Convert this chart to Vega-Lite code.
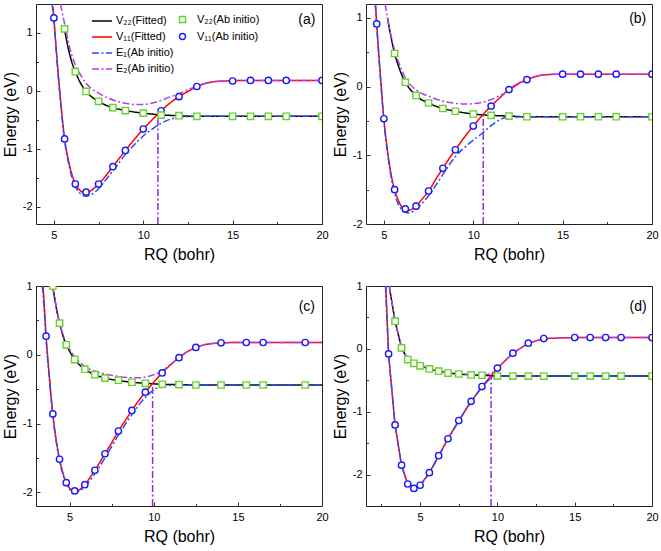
{
"$schema": "https://vega.github.io/schema/vega-lite/v6.json",
"padding": {"left": 1, "top": 3, "right": 0, "bottom": 2},
"config": {
  "font": "Liberation Sans",
  "view": {"stroke": "#222", "strokeWidth": 1},
  "axis": {"labelColor": "#000", "titleColor": "#000", "tickColor": "#333", "grid": false, "domain": false, "labelFontSize": 11, "titleFontSize": 16, "titleFontWeight": "normal", "labelFont": "Liberation Sans", "titleFont": "Liberation Sans", "labelFlush": false},
  "legend": {"labelFont": "Liberation Sans", "labelFontSize": 11, "labelColor": "#000"}
},
"data": {"values": [
{"p":"a","s":"V22F","x":5.55,"y":1.13},{"p":"a","s":"V22F","x":5.6,"y":1.05},{"p":"a","s":"V22F","x":5.8,"y":0.74},{"p":"a","s":"V22F","x":6.0,"y":0.5},{"p":"a","s":"V22F","x":6.2,"y":0.33},{"p":"a","s":"V22F","x":6.5,"y":0.13},{"p":"a","s":"V22F","x":6.8,"y":-0.01},{"p":"a","s":"V22F","x":7.1,"y":-0.1},{"p":"a","s":"V22F","x":7.5,"y":-0.18},{"p":"a","s":"V22F","x":8.0,"y":-0.26},{"p":"a","s":"V22F","x":8.3,"y":-0.29},{"p":"a","s":"V22F","x":9.0,"y":-0.34},{"p":"a","s":"V22F","x":10,"y":-0.385},{"p":"a","s":"V22F","x":11,"y":-0.415},{"p":"a","s":"V22F","x":12,"y":-0.43},{"p":"a","s":"V22F","x":13,"y":-0.44},{"p":"a","s":"V22F","x":15,"y":-0.44},{"p":"a","s":"V22F","x":20,"y":-0.44},
{"p":"a","s":"V11F","x":4.95,"y":1.45},{"p":"a","s":"V11F","x":5.0,"y":1.26},{"p":"a","s":"V11F","x":5.2,"y":0.45},{"p":"a","s":"V11F","x":5.4,"y":-0.25},{"p":"a","s":"V11F","x":5.6,"y":-0.83},{"p":"a","s":"V11F","x":5.8,"y":-1.18},{"p":"a","s":"V11F","x":6.0,"y":-1.43},{"p":"a","s":"V11F","x":6.2,"y":-1.61},{"p":"a","s":"V11F","x":6.5,"y":-1.73},{"p":"a","s":"V11F","x":6.8,"y":-1.77},{"p":"a","s":"V11F","x":7.1,"y":-1.72},{"p":"a","s":"V11F","x":7.5,"y":-1.61},{"p":"a","s":"V11F","x":8.0,"y":-1.43},{"p":"a","s":"V11F","x":8.3,"y":-1.31},{"p":"a","s":"V11F","x":8.7,"y":-1.15},{"p":"a","s":"V11F","x":9.0,"y":-1.03},{"p":"a","s":"V11F","x":9.5,"y":-0.84},{"p":"a","s":"V11F","x":10,"y":-0.66},{"p":"a","s":"V11F","x":10.5,"y":-0.5},{"p":"a","s":"V11F","x":11,"y":-0.345},{"p":"a","s":"V11F","x":11.5,"y":-0.21},{"p":"a","s":"V11F","x":12,"y":-0.1},{"p":"a","s":"V11F","x":12.5,"y":-0.01},{"p":"a","s":"V11F","x":13,"y":0.075},{"p":"a","s":"V11F","x":13.5,"y":0.13},{"p":"a","s":"V11F","x":14,"y":0.16},{"p":"a","s":"V11F","x":15,"y":0.175},{"p":"a","s":"V11F","x":16,"y":0.18},{"p":"a","s":"V11F","x":20,"y":0.18},
{"p":"a","s":"E1","x":4.9,"y":1.5},{"p":"a","s":"E1","x":5.0,"y":1.2},{"p":"a","s":"E1","x":5.2,"y":0.42},{"p":"a","s":"E1","x":5.4,"y":-0.28},{"p":"a","s":"E1","x":5.6,"y":-0.86},{"p":"a","s":"E1","x":5.8,"y":-1.22},{"p":"a","s":"E1","x":6.0,"y":-1.48},{"p":"a","s":"E1","x":6.2,"y":-1.65},{"p":"a","s":"E1","x":6.5,"y":-1.78},{"p":"a","s":"E1","x":6.8,"y":-1.82},{"p":"a","s":"E1","x":7.1,"y":-1.79},{"p":"a","s":"E1","x":7.5,"y":-1.69},{"p":"a","s":"E1","x":8.0,"y":-1.5},{"p":"a","s":"E1","x":8.3,"y":-1.38},{"p":"a","s":"E1","x":8.7,"y":-1.22},{"p":"a","s":"E1","x":9.0,"y":-1.1},{"p":"a","s":"E1","x":9.5,"y":-0.93},{"p":"a","s":"E1","x":10,"y":-0.78},{"p":"a","s":"E1","x":10.5,"y":-0.66},{"p":"a","s":"E1","x":11,"y":-0.56},{"p":"a","s":"E1","x":11.5,"y":-0.49},{"p":"a","s":"E1","x":12,"y":-0.46},{"p":"a","s":"E1","x":12.5,"y":-0.445},{"p":"a","s":"E1","x":13,"y":-0.44},{"p":"a","s":"E1","x":20,"y":-0.44},
{"p":"a","s":"E2","x":5.37,"y":1.5},{"p":"a","s":"E2","x":5.5,"y":1.3},{"p":"a","s":"E2","x":5.6,"y":1.16},{"p":"a","s":"E2","x":5.8,"y":0.86},{"p":"a","s":"E2","x":6.0,"y":0.62},{"p":"a","s":"E2","x":6.2,"y":0.45},{"p":"a","s":"E2","x":6.5,"y":0.27},{"p":"a","s":"E2","x":6.8,"y":0.13},{"p":"a","s":"E2","x":7.1,"y":0.04},{"p":"a","s":"E2","x":7.5,"y":-0.04},{"p":"a","s":"E2","x":8.0,"y":-0.12},{"p":"a","s":"E2","x":8.5,"y":-0.18},{"p":"a","s":"E2","x":9.0,"y":-0.215},{"p":"a","s":"E2","x":9.5,"y":-0.235},{"p":"a","s":"E2","x":10,"y":-0.235},{"p":"a","s":"E2","x":10.5,"y":-0.21},{"p":"a","s":"E2","x":11,"y":-0.165},{"p":"a","s":"E2","x":11.5,"y":-0.105},{"p":"a","s":"E2","x":12,"y":-0.05},{"p":"a","s":"E2","x":12.5,"y":0.02},{"p":"a","s":"E2","x":13,"y":0.08},{"p":"a","s":"E2","x":13.5,"y":0.13},{"p":"a","s":"E2","x":14,"y":0.16},{"p":"a","s":"E2","x":15,"y":0.175},{"p":"a","s":"E2","x":16,"y":0.18},{"p":"a","s":"E2","x":20,"y":0.18},
{"p":"a","s":"V11A","x":5.0,"y":1.26},{"p":"a","s":"V11A","x":5.6,"y":-0.83},{"p":"a","s":"V11A","x":6.2,"y":-1.61},{"p":"a","s":"V11A","x":6.8,"y":-1.75},{"p":"a","s":"V11A","x":7.5,"y":-1.61},{"p":"a","s":"V11A","x":8.3,"y":-1.31},{"p":"a","s":"V11A","x":9.0,"y":-1.03},{"p":"a","s":"V11A","x":10,"y":-0.66},{"p":"a","s":"V11A","x":11,"y":-0.345},{"p":"a","s":"V11A","x":12,"y":-0.1},{"p":"a","s":"V11A","x":13,"y":0.075},{"p":"a","s":"V11A","x":15,"y":0.17},{"p":"a","s":"V11A","x":16,"y":0.18},{"p":"a","s":"V11A","x":17,"y":0.18},{"p":"a","s":"V11A","x":18,"y":0.18},{"p":"a","s":"V11A","x":20,"y":0.18},
{"p":"a","s":"V22A","x":5.6,"y":1.07},{"p":"a","s":"V22A","x":6.2,"y":0.33},{"p":"a","s":"V22A","x":6.8,"y":-0.01},{"p":"a","s":"V22A","x":7.5,"y":-0.18},{"p":"a","s":"V22A","x":8.3,"y":-0.29},{"p":"a","s":"V22A","x":9.0,"y":-0.34},{"p":"a","s":"V22A","x":10,"y":-0.385},{"p":"a","s":"V22A","x":11,"y":-0.42},{"p":"a","s":"V22A","x":12,"y":-0.43},{"p":"a","s":"V22A","x":13,"y":-0.44},{"p":"a","s":"V22A","x":15,"y":-0.44},{"p":"a","s":"V22A","x":16,"y":-0.44},{"p":"a","s":"V22A","x":17,"y":-0.44},{"p":"a","s":"V22A","x":18,"y":-0.44},{"p":"a","s":"V22A","x":20,"y":-0.44},
{"p":"a","s":"VL","x":10.82,"y":-2.3,"y2":-0.42},

{"p":"b","s":"V22F","x":5.2,"y":1.0},{"p":"b","s":"V22F","x":5.4,"y":0.72},{"p":"b","s":"V22F","x":5.6,"y":0.48},{"p":"b","s":"V22F","x":5.8,"y":0.31},{"p":"b","s":"V22F","x":6.0,"y":0.17},{"p":"b","s":"V22F","x":6.2,"y":0.063},{"p":"b","s":"V22F","x":6.5,"y":-0.05},{"p":"b","s":"V22F","x":6.8,"y":-0.13},{"p":"b","s":"V22F","x":7.1,"y":-0.19},{"p":"b","s":"V22F","x":7.5,"y":-0.24},{"p":"b","s":"V22F","x":8.0,"y":-0.295},{"p":"b","s":"V22F","x":8.3,"y":-0.32},{"p":"b","s":"V22F","x":9.0,"y":-0.36},{"p":"b","s":"V22F","x":10,"y":-0.4},{"p":"b","s":"V22F","x":11,"y":-0.42},{"p":"b","s":"V22F","x":12,"y":-0.43},{"p":"b","s":"V22F","x":13,"y":-0.44},{"p":"b","s":"V22F","x":20,"y":-0.44},
{"p":"b","s":"V11F","x":4.53,"y":1.2},{"p":"b","s":"V11F","x":4.6,"y":0.91},{"p":"b","s":"V11F","x":4.8,"y":0.18},{"p":"b","s":"V11F","x":5.0,"y":-0.47},{"p":"b","s":"V11F","x":5.2,"y":-0.93},{"p":"b","s":"V11F","x":5.4,"y":-1.27},{"p":"b","s":"V11F","x":5.6,"y":-1.5},{"p":"b","s":"V11F","x":5.8,"y":-1.65},{"p":"b","s":"V11F","x":6.0,"y":-1.75},{"p":"b","s":"V11F","x":6.2,"y":-1.79},{"p":"b","s":"V11F","x":6.4,"y":-1.8},{"p":"b","s":"V11F","x":6.6,"y":-1.78},{"p":"b","s":"V11F","x":6.8,"y":-1.74},{"p":"b","s":"V11F","x":7.1,"y":-1.65},{"p":"b","s":"V11F","x":7.5,"y":-1.52},{"p":"b","s":"V11F","x":8.0,"y":-1.31},{"p":"b","s":"V11F","x":8.3,"y":-1.19},{"p":"b","s":"V11F","x":8.7,"y":-1.03},{"p":"b","s":"V11F","x":9.0,"y":-0.92},{"p":"b","s":"V11F","x":9.5,"y":-0.74},{"p":"b","s":"V11F","x":10,"y":-0.575},{"p":"b","s":"V11F","x":10.5,"y":-0.42},{"p":"b","s":"V11F","x":11,"y":-0.285},{"p":"b","s":"V11F","x":11.5,"y":-0.16},{"p":"b","s":"V11F","x":12,"y":-0.045},{"p":"b","s":"V11F","x":12.5,"y":0.04},{"p":"b","s":"V11F","x":13,"y":0.1},{"p":"b","s":"V11F","x":13.5,"y":0.145},{"p":"b","s":"V11F","x":14,"y":0.17},{"p":"b","s":"V11F","x":15,"y":0.18},{"p":"b","s":"V11F","x":20,"y":0.18},
{"p":"b","s":"E1","x":4.52,"y":1.2},{"p":"b","s":"E1","x":4.6,"y":0.88},{"p":"b","s":"E1","x":4.8,"y":0.15},{"p":"b","s":"E1","x":5.0,"y":-0.5},{"p":"b","s":"E1","x":5.2,"y":-0.96},{"p":"b","s":"E1","x":5.4,"y":-1.31},{"p":"b","s":"E1","x":5.6,"y":-1.55},{"p":"b","s":"E1","x":5.8,"y":-1.71},{"p":"b","s":"E1","x":6.0,"y":-1.79},{"p":"b","s":"E1","x":6.2,"y":-1.83},{"p":"b","s":"E1","x":6.4,"y":-1.84},{"p":"b","s":"E1","x":6.6,"y":-1.82},{"p":"b","s":"E1","x":6.8,"y":-1.78},{"p":"b","s":"E1","x":7.1,"y":-1.71},{"p":"b","s":"E1","x":7.5,"y":-1.59},{"p":"b","s":"E1","x":8.0,"y":-1.4},{"p":"b","s":"E1","x":8.5,"y":-1.2},{"p":"b","s":"E1","x":9.0,"y":-1.02},{"p":"b","s":"E1","x":9.5,"y":-0.89},{"p":"b","s":"E1","x":10,"y":-0.78},{"p":"b","s":"E1","x":10.5,"y":-0.68},{"p":"b","s":"E1","x":11,"y":-0.57},{"p":"b","s":"E1","x":11.5,"y":-0.48},{"p":"b","s":"E1","x":12,"y":-0.445},{"p":"b","s":"E1","x":13,"y":-0.44},{"p":"b","s":"E1","x":20,"y":-0.44},
{"p":"b","s":"E2","x":5.07,"y":1.2},{"p":"b","s":"E2","x":5.2,"y":1.0},{"p":"b","s":"E2","x":5.4,"y":0.74},{"p":"b","s":"E2","x":5.6,"y":0.53},{"p":"b","s":"E2","x":5.8,"y":0.37},{"p":"b","s":"E2","x":6.0,"y":0.24},{"p":"b","s":"E2","x":6.2,"y":0.13},{"p":"b","s":"E2","x":6.5,"y":0.02},{"p":"b","s":"E2","x":6.8,"y":-0.05},{"p":"b","s":"E2","x":7.1,"y":-0.1},{"p":"b","s":"E2","x":7.5,"y":-0.14},{"p":"b","s":"E2","x":8.0,"y":-0.19},{"p":"b","s":"E2","x":8.5,"y":-0.225},{"p":"b","s":"E2","x":9.0,"y":-0.245},{"p":"b","s":"E2","x":9.5,"y":-0.255},{"p":"b","s":"E2","x":10,"y":-0.25},{"p":"b","s":"E2","x":10.5,"y":-0.23},{"p":"b","s":"E2","x":11,"y":-0.19},{"p":"b","s":"E2","x":11.5,"y":-0.13},{"p":"b","s":"E2","x":12,"y":-0.055},{"p":"b","s":"E2","x":12.5,"y":0.03},{"p":"b","s":"E2","x":13,"y":0.1},{"p":"b","s":"E2","x":13.5,"y":0.15},{"p":"b","s":"E2","x":14,"y":0.17},{"p":"b","s":"E2","x":15,"y":0.18},{"p":"b","s":"E2","x":20,"y":0.18},
{"p":"b","s":"V11A","x":4.6,"y":0.91},{"p":"b","s":"V11A","x":5.0,"y":-0.47},{"p":"b","s":"V11A","x":5.6,"y":-1.5},{"p":"b","s":"V11A","x":6.2,"y":-1.78},{"p":"b","s":"V11A","x":6.8,"y":-1.74},{"p":"b","s":"V11A","x":7.5,"y":-1.52},{"p":"b","s":"V11A","x":8.3,"y":-1.19},{"p":"b","s":"V11A","x":9.0,"y":-0.92},{"p":"b","s":"V11A","x":10,"y":-0.575},{"p":"b","s":"V11A","x":11,"y":-0.285},{"p":"b","s":"V11A","x":12,"y":-0.045},{"p":"b","s":"V11A","x":13,"y":0.1},{"p":"b","s":"V11A","x":15,"y":0.18},{"p":"b","s":"V11A","x":16,"y":0.18},{"p":"b","s":"V11A","x":17,"y":0.18},{"p":"b","s":"V11A","x":18,"y":0.18},{"p":"b","s":"V11A","x":20,"y":0.18},
{"p":"b","s":"V22A","x":5.6,"y":0.48},{"p":"b","s":"V22A","x":6.2,"y":0.063},{"p":"b","s":"V22A","x":6.8,"y":-0.13},{"p":"b","s":"V22A","x":7.5,"y":-0.24},{"p":"b","s":"V22A","x":8.3,"y":-0.32},{"p":"b","s":"V22A","x":9.0,"y":-0.36},{"p":"b","s":"V22A","x":10,"y":-0.4},{"p":"b","s":"V22A","x":11,"y":-0.42},{"p":"b","s":"V22A","x":12,"y":-0.43},{"p":"b","s":"V22A","x":13,"y":-0.44},{"p":"b","s":"V22A","x":15,"y":-0.44},{"p":"b","s":"V22A","x":16,"y":-0.44},{"p":"b","s":"V22A","x":17,"y":-0.44},{"p":"b","s":"V22A","x":18,"y":-0.44},{"p":"b","s":"V22A","x":20,"y":-0.44},
{"p":"b","s":"VL","x":10.56,"y":-2.0,"y2":-0.42},

{"p":"c","s":"V22F","x":4.0,"y":1.0},{"p":"c","s":"V22F","x":4.2,"y":0.69},{"p":"c","s":"V22F","x":4.4,"y":0.46},{"p":"c","s":"V22F","x":4.6,"y":0.28},{"p":"c","s":"V22F","x":4.8,"y":0.145},{"p":"c","s":"V22F","x":5.0,"y":0.05},{"p":"c","s":"V22F","x":5.3,"y":-0.07},{"p":"c","s":"V22F","x":5.6,"y":-0.15},{"p":"c","s":"V22F","x":5.9,"y":-0.21},{"p":"c","s":"V22F","x":6.5,"y":-0.29},{"p":"c","s":"V22F","x":7.1,"y":-0.34},{"p":"c","s":"V22F","x":7.9,"y":-0.375},{"p":"c","s":"V22F","x":8.7,"y":-0.4},{"p":"c","s":"V22F","x":9.5,"y":-0.415},{"p":"c","s":"V22F","x":10.5,"y":-0.43},{"p":"c","s":"V22F","x":11.5,"y":-0.435},{"p":"c","s":"V22F","x":12.5,"y":-0.44},{"p":"c","s":"V22F","x":20,"y":-0.44},
{"p":"c","s":"V11F","x":3.42,"y":1.0},{"p":"c","s":"V11F","x":3.5,"y":0.68},{"p":"c","s":"V11F","x":3.6,"y":0.27},{"p":"c","s":"V11F","x":3.8,"y":-0.33},{"p":"c","s":"V11F","x":4.0,"y":-0.86},{"p":"c","s":"V11F","x":4.2,"y":-1.24},{"p":"c","s":"V11F","x":4.4,"y":-1.52},{"p":"c","s":"V11F","x":4.6,"y":-1.72},{"p":"c","s":"V11F","x":4.8,"y":-1.86},{"p":"c","s":"V11F","x":5.0,"y":-1.94},{"p":"c","s":"V11F","x":5.3,"y":-1.98},{"p":"c","s":"V11F","x":5.6,"y":-1.96},{"p":"c","s":"V11F","x":5.9,"y":-1.89},{"p":"c","s":"V11F","x":6.2,"y":-1.79},{"p":"c","s":"V11F","x":6.5,"y":-1.68},{"p":"c","s":"V11F","x":7.1,"y":-1.44},{"p":"c","s":"V11F","x":7.5,"y":-1.28},{"p":"c","s":"V11F","x":7.9,"y":-1.11},{"p":"c","s":"V11F","x":8.3,"y":-0.96},{"p":"c","s":"V11F","x":8.7,"y":-0.81},{"p":"c","s":"V11F","x":9.1,"y":-0.67},{"p":"c","s":"V11F","x":9.5,"y":-0.545},{"p":"c","s":"V11F","x":10,"y":-0.4},{"p":"c","s":"V11F","x":10.5,"y":-0.265},{"p":"c","s":"V11F","x":11,"y":-0.145},{"p":"c","s":"V11F","x":11.5,"y":-0.043},{"p":"c","s":"V11F","x":12,"y":0.045},{"p":"c","s":"V11F","x":12.5,"y":0.106},{"p":"c","s":"V11F","x":13,"y":0.145},{"p":"c","s":"V11F","x":14,"y":0.172},{"p":"c","s":"V11F","x":15,"y":0.178},{"p":"c","s":"V11F","x":20,"y":0.178},
{"p":"c","s":"E1","x":3.38,"y":1.0},{"p":"c","s":"E1","x":3.5,"y":0.6},{"p":"c","s":"E1","x":3.6,"y":0.22},{"p":"c","s":"E1","x":3.8,"y":-0.37},{"p":"c","s":"E1","x":4.0,"y":-0.89},{"p":"c","s":"E1","x":4.2,"y":-1.26},{"p":"c","s":"E1","x":4.4,"y":-1.54},{"p":"c","s":"E1","x":4.6,"y":-1.74},{"p":"c","s":"E1","x":4.8,"y":-1.88},{"p":"c","s":"E1","x":5.0,"y":-1.96},{"p":"c","s":"E1","x":5.3,"y":-2.0},{"p":"c","s":"E1","x":5.6,"y":-1.98},{"p":"c","s":"E1","x":5.9,"y":-1.92},{"p":"c","s":"E1","x":6.5,"y":-1.73},{"p":"c","s":"E1","x":7.1,"y":-1.5},{"p":"c","s":"E1","x":7.9,"y":-1.17},{"p":"c","s":"E1","x":8.7,"y":-0.87},{"p":"c","s":"E1","x":9.5,"y":-0.62},{"p":"c","s":"E1","x":10,"y":-0.51},{"p":"c","s":"E1","x":10.5,"y":-0.46},{"p":"c","s":"E1","x":11,"y":-0.445},{"p":"c","s":"E1","x":11.5,"y":-0.44},{"p":"c","s":"E1","x":20,"y":-0.44},
{"p":"c","s":"E2","x":3.98,"y":1.0},{"p":"c","s":"E2","x":4.2,"y":0.7},{"p":"c","s":"E2","x":4.4,"y":0.47},{"p":"c","s":"E2","x":4.6,"y":0.3},{"p":"c","s":"E2","x":4.8,"y":0.17},{"p":"c","s":"E2","x":5.0,"y":0.08},{"p":"c","s":"E2","x":5.3,"y":-0.03},{"p":"c","s":"E2","x":5.6,"y":-0.11},{"p":"c","s":"E2","x":5.9,"y":-0.17},{"p":"c","s":"E2","x":6.5,"y":-0.24},{"p":"c","s":"E2","x":7.1,"y":-0.28},{"p":"c","s":"E2","x":7.9,"y":-0.315},{"p":"c","s":"E2","x":8.7,"y":-0.335},{"p":"c","s":"E2","x":9.2,"y":-0.335},{"p":"c","s":"E2","x":9.6,"y":-0.32},{"p":"c","s":"E2","x":10,"y":-0.29},{"p":"c","s":"E2","x":10.5,"y":-0.235},{"p":"c","s":"E2","x":11,"y":-0.14},{"p":"c","s":"E2","x":11.5,"y":-0.04},{"p":"c","s":"E2","x":12,"y":0.045},{"p":"c","s":"E2","x":12.5,"y":0.106},{"p":"c","s":"E2","x":13,"y":0.145},{"p":"c","s":"E2","x":14,"y":0.172},{"p":"c","s":"E2","x":15,"y":0.178},{"p":"c","s":"E2","x":20,"y":0.178},
{"p":"c","s":"V11A","x":3.6,"y":0.27},{"p":"c","s":"V11A","x":4.0,"y":-0.86},{"p":"c","s":"V11A","x":4.4,"y":-1.52},{"p":"c","s":"V11A","x":4.8,"y":-1.86},{"p":"c","s":"V11A","x":5.3,"y":-1.98},{"p":"c","s":"V11A","x":5.9,"y":-1.89},{"p":"c","s":"V11A","x":6.5,"y":-1.68},{"p":"c","s":"V11A","x":7.1,"y":-1.44},{"p":"c","s":"V11A","x":7.9,"y":-1.11},{"p":"c","s":"V11A","x":8.7,"y":-0.81},{"p":"c","s":"V11A","x":9.5,"y":-0.545},{"p":"c","s":"V11A","x":10.5,"y":-0.265},{"p":"c","s":"V11A","x":11.5,"y":-0.043},{"p":"c","s":"V11A","x":12.5,"y":0.106},{"p":"c","s":"V11A","x":14,"y":0.174},{"p":"c","s":"V11A","x":15.5,"y":0.178},{"p":"c","s":"V11A","x":16.5,"y":0.178},{"p":"c","s":"V11A","x":19,"y":0.178},
{"p":"c","s":"V22A","x":4.0,"y":1.0},{"p":"c","s":"V22A","x":4.4,"y":0.46},{"p":"c","s":"V22A","x":4.8,"y":0.145},{"p":"c","s":"V22A","x":5.3,"y":-0.07},{"p":"c","s":"V22A","x":5.9,"y":-0.21},{"p":"c","s":"V22A","x":6.5,"y":-0.29},{"p":"c","s":"V22A","x":7.1,"y":-0.34},{"p":"c","s":"V22A","x":7.9,"y":-0.37},{"p":"c","s":"V22A","x":8.7,"y":-0.4},{"p":"c","s":"V22A","x":9.5,"y":-0.415},{"p":"c","s":"V22A","x":10.5,"y":-0.43},{"p":"c","s":"V22A","x":11.5,"y":-0.434},{"p":"c","s":"V22A","x":12.5,"y":-0.44},{"p":"c","s":"V22A","x":14,"y":-0.44},{"p":"c","s":"V22A","x":15.5,"y":-0.44},{"p":"c","s":"V22A","x":16.5,"y":-0.44},{"p":"c","s":"V22A","x":19,"y":-0.44},
{"p":"c","s":"VL","x":9.93,"y":-2.2,"y2":-0.43},

{"p":"d","s":"V22F","x":3.0,"y":1.0},{"p":"d","s":"V22F","x":3.38,"y":0.44},{"p":"d","s":"V22F","x":3.8,"y":0.016},{"p":"d","s":"V22F","x":4.2,"y":-0.17},{"p":"d","s":"V22F","x":4.6,"y":-0.23},{"p":"d","s":"V22F","x":5.0,"y":-0.27},{"p":"d","s":"V22F","x":5.6,"y":-0.32},{"p":"d","s":"V22F","x":6.2,"y":-0.355},{"p":"d","s":"V22F","x":6.8,"y":-0.385},{"p":"d","s":"V22F","x":7.5,"y":-0.4},{"p":"d","s":"V22F","x":8.3,"y":-0.415},{"p":"d","s":"V22F","x":9.0,"y":-0.42},{"p":"d","s":"V22F","x":10,"y":-0.433},{"p":"d","s":"V22F","x":20,"y":-0.433},
{"p":"d","s":"V11F","x":2.78,"y":1.0},{"p":"d","s":"V11F","x":2.96,"y":-0.08},{"p":"d","s":"V11F","x":3.38,"y":-1.21},{"p":"d","s":"V11F","x":3.8,"y":-1.85},{"p":"d","s":"V11F","x":4.2,"y":-2.15},{"p":"d","s":"V11F","x":4.6,"y":-2.22},{"p":"d","s":"V11F","x":5.0,"y":-2.17},{"p":"d","s":"V11F","x":5.6,"y":-1.97},{"p":"d","s":"V11F","x":6.2,"y":-1.7},{"p":"d","s":"V11F","x":6.8,"y":-1.43},{"p":"d","s":"V11F","x":7.5,"y":-1.14},{"p":"d","s":"V11F","x":8.3,"y":-0.835},{"p":"d","s":"V11F","x":9.0,"y":-0.6},{"p":"d","s":"V11F","x":10,"y":-0.306},{"p":"d","s":"V11F","x":11,"y":-0.069},{"p":"d","s":"V11F","x":12,"y":0.09},{"p":"d","s":"V11F","x":13,"y":0.164},{"p":"d","s":"V11F","x":15,"y":0.18},{"p":"d","s":"V11F","x":20,"y":0.18},
{"p":"d","s":"E1","x":2.76,"y":1.0},{"p":"d","s":"E1","x":2.96,"y":-0.09},{"p":"d","s":"E1","x":3.38,"y":-1.22},{"p":"d","s":"E1","x":3.8,"y":-1.86},{"p":"d","s":"E1","x":4.2,"y":-2.16},{"p":"d","s":"E1","x":4.6,"y":-2.23},{"p":"d","s":"E1","x":5.0,"y":-2.18},{"p":"d","s":"E1","x":5.6,"y":-1.98},{"p":"d","s":"E1","x":6.2,"y":-1.71},{"p":"d","s":"E1","x":6.8,"y":-1.44},{"p":"d","s":"E1","x":7.5,"y":-1.15},{"p":"d","s":"E1","x":8.3,"y":-0.84},{"p":"d","s":"E1","x":9.0,"y":-0.61},{"p":"d","s":"E1","x":9.6,"y":-0.45},{"p":"d","s":"E1","x":10,"y":-0.435},{"p":"d","s":"E1","x":11,"y":-0.433},{"p":"d","s":"E1","x":20,"y":-0.433},
{"p":"d","s":"E2","x":3.0,"y":1.0},{"p":"d","s":"E2","x":3.38,"y":0.44},{"p":"d","s":"E2","x":3.8,"y":0.02},{"p":"d","s":"E2","x":4.2,"y":-0.165},{"p":"d","s":"E2","x":4.6,"y":-0.225},{"p":"d","s":"E2","x":5.0,"y":-0.265},{"p":"d","s":"E2","x":5.6,"y":-0.315},{"p":"d","s":"E2","x":6.2,"y":-0.35},{"p":"d","s":"E2","x":6.8,"y":-0.38},{"p":"d","s":"E2","x":7.5,"y":-0.395},{"p":"d","s":"E2","x":8.3,"y":-0.41},{"p":"d","s":"E2","x":9.0,"y":-0.415},{"p":"d","s":"E2","x":9.6,"y":-0.4},{"p":"d","s":"E2","x":10,"y":-0.306},{"p":"d","s":"E2","x":11,"y":-0.069},{"p":"d","s":"E2","x":12,"y":0.09},{"p":"d","s":"E2","x":13,"y":0.164},{"p":"d","s":"E2","x":15,"y":0.18},{"p":"d","s":"E2","x":20,"y":0.18},
{"p":"d","s":"V11A","x":2.96,"y":-0.08},{"p":"d","s":"V11A","x":3.38,"y":-1.21},{"p":"d","s":"V11A","x":3.8,"y":-1.85},{"p":"d","s":"V11A","x":4.2,"y":-2.15},{"p":"d","s":"V11A","x":4.6,"y":-2.22},{"p":"d","s":"V11A","x":5.0,"y":-2.17},{"p":"d","s":"V11A","x":5.6,"y":-1.97},{"p":"d","s":"V11A","x":6.2,"y":-1.7},{"p":"d","s":"V11A","x":6.8,"y":-1.43},{"p":"d","s":"V11A","x":7.5,"y":-1.14},{"p":"d","s":"V11A","x":8.3,"y":-0.835},{"p":"d","s":"V11A","x":9.0,"y":-0.6},{"p":"d","s":"V11A","x":10,"y":-0.306},{"p":"d","s":"V11A","x":11,"y":-0.069},{"p":"d","s":"V11A","x":12,"y":0.09},{"p":"d","s":"V11A","x":13,"y":0.164},{"p":"d","s":"V11A","x":15,"y":0.18},{"p":"d","s":"V11A","x":16,"y":0.18},{"p":"d","s":"V11A","x":17,"y":0.18},{"p":"d","s":"V11A","x":18,"y":0.18},{"p":"d","s":"V11A","x":20,"y":0.18},
{"p":"d","s":"V22A","x":3.38,"y":0.44},{"p":"d","s":"V22A","x":3.8,"y":0.016},{"p":"d","s":"V22A","x":4.2,"y":-0.17},{"p":"d","s":"V22A","x":4.6,"y":-0.23},{"p":"d","s":"V22A","x":5.0,"y":-0.27},{"p":"d","s":"V22A","x":5.6,"y":-0.32},{"p":"d","s":"V22A","x":6.2,"y":-0.355},{"p":"d","s":"V22A","x":6.8,"y":-0.385},{"p":"d","s":"V22A","x":7.5,"y":-0.4},{"p":"d","s":"V22A","x":8.3,"y":-0.415},{"p":"d","s":"V22A","x":9.0,"y":-0.42},{"p":"d","s":"V22A","x":10,"y":-0.433},{"p":"d","s":"V22A","x":11,"y":-0.433},{"p":"d","s":"V22A","x":12,"y":-0.433},{"p":"d","s":"V22A","x":13,"y":-0.433},{"p":"d","s":"V22A","x":15,"y":-0.433},{"p":"d","s":"V22A","x":16,"y":-0.433},{"p":"d","s":"V22A","x":17,"y":-0.433},{"p":"d","s":"V22A","x":18,"y":-0.433},{"p":"d","s":"V22A","x":20,"y":-0.433},
{"p":"d","s":"VL","x":9.59,"y":-2.5,"y2":-0.43}
]},
"columns": 2,
"bounds": "flush",
"spacing": {"row": 62, "column": 44},
"resolve": {"scale": {"stroke": "independent", "strokeDash": "independent", "color": "independent", "shape": "independent"}},
"concat": [
 {"width": 286, "height": 220,
  "transform": [{"filter": "datum.p === 'a'"}],
  "resolve": {"axis": {"x": "independent", "y": "independent"}},
  "layer": [
   {"transform": [{"filter": "datum.s === 'V22F' || datum.s === 'V11F'"}],
    "mark": {"type": "line", "clip": true, "interpolate": "monotone", "strokeWidth": 1.5},
    "encoding": {
     "x": {"field": "x", "type": "quantitative", "scale": {"domain": [4, 20], "nice": false, "zero": false}, "axis": {"values": [5, 10, 15, 20], "title": "RQ (bohr)", "tickSize": -4, "labelPadding": 9, "titlePadding": 6, "labelFlush": false}},
     "y": {"field": "y", "type": "quantitative", "scale": {"domain": [-2.3, 1.5], "nice": false, "zero": false}, "axis": {"values": [-2, -1, 0, 1], "title": "Energy (eV)", "tickSize": -4, "labelPadding": 8, "titlePadding": 4, "labelFlush": false, "labelExpr": "datum.value < 0 ? '-' + abs(datum.value) : '' + datum.value"}},
     "stroke": {"field": "s", "type": "nominal", "scale": {"domain": ["V22F", "V11F", "E1", "E2"], "range": ["#000000", "#ff0000", "#2a4bff", "#b040f0"]}, "legend": {"orient": "none", "legendX": 55, "legendY": 6, "title": null, "symbolType": "stroke", "symbolSize": 400, "symbolStrokeWidth": 1.5, "rowPadding": -2, "labelOffset": 3, "labelExpr": "{'V22F': 'V₂₂(Fitted)', 'V11F': 'V₁₁(Fitted)', 'E1': 'E₁(Ab initio)', 'E2': 'E₂(Ab initio)'}[datum.label]"}},
     "strokeDash": {"field": "s", "type": "nominal", "scale": {"domain": ["V22F", "V11F", "E1", "E2"], "range": [[1, 0], [1, 0], [7, 2.5, 2, 2.5], [7, 2.5, 2, 2.5]]}, "legend": {"orient": "none", "legendX": 55, "legendY": 6, "title": null, "symbolType": "stroke", "symbolSize": 400, "symbolStrokeWidth": 1.5, "rowPadding": -2, "labelOffset": 3, "labelExpr": "{'V22F': 'V₂₂(Fitted)', 'V11F': 'V₁₁(Fitted)', 'E1': 'E₁(Ab initio)', 'E2': 'E₂(Ab initio)'}[datum.label]"}}
    }},
   {"transform": [{"filter": "datum.s === 'E1' || datum.s === 'E2'"}],
    "mark": {"type": "line", "clip": true, "interpolate": "monotone", "strokeWidth": 1.5},
    "encoding": {
     "x": {"field": "x", "type": "quantitative", "axis": null},
     "y": {"field": "y", "type": "quantitative", "axis": null},
     "stroke": {"field": "s", "type": "nominal", "legend": {"orient": "none", "legendX": 55, "legendY": 6, "title": null, "symbolType": "stroke", "symbolSize": 400, "symbolStrokeWidth": 1.5, "rowPadding": -2, "labelOffset": 3, "labelExpr": "{'V22F': 'V₂₂(Fitted)', 'V11F': 'V₁₁(Fitted)', 'E1': 'E₁(Ab initio)', 'E2': 'E₂(Ab initio)'}[datum.label]"}},
     "strokeDash": {"field": "s", "type": "nominal", "legend": {"orient": "none", "legendX": 55, "legendY": 6, "title": null, "symbolType": "stroke", "symbolSize": 400, "symbolStrokeWidth": 1.5, "rowPadding": -2, "labelOffset": 3, "labelExpr": "{'V22F': 'V₂₂(Fitted)', 'V11F': 'V₁₁(Fitted)', 'E1': 'E₁(Ab initio)', 'E2': 'E₂(Ab initio)'}[datum.label]"}}
    }},
   {"transform": [{"filter": "datum.s === 'VL'"}],
    "mark": {"type": "rule", "color": "#8a2be2", "strokeDash": [7, 2.5, 2, 2.5], "strokeWidth": 1.5, "clip": true},
    "encoding": {
     "x": {"field": "x", "type": "quantitative", "axis": {"orient": "bottom", "values": [7.5, 12.5, 17.5], "labels": false, "title": null, "tickSize": -2.5}},
     "y": {"field": "y", "type": "quantitative", "axis": {"orient": "left", "values": [-1.5, -0.5, 0.5], "labels": false, "title": null, "tickSize": -2.5}},
     "y2": {"field": "y2"}
    }},
   {"transform": [{"filter": "datum.s === 'V22A' || datum.s === 'V11A'"}],
    "mark": {"type": "point", "filled": false, "fill": "white", "fillOpacity": 1, "strokeWidth": 1.4, "size": 40, "clip": true},
    "encoding": {
     "x": {"field": "x", "type": "quantitative", "axis": null},
     "y": {"field": "y", "type": "quantitative", "axis": null},
     "color": {"field": "s", "type": "nominal", "scale": {"domain": ["V22A", "V11A"], "range": ["#66d22a", "#1a1aff"]}, "legend": {"orient": "none", "legendX": 141, "legendY": 10, "title": null, "rowPadding": 4, "labelOffset": 9, "symbolSize": 36, "symbolStrokeWidth": 1.4, "labelExpr": "{'V22A': 'V₂₂(Ab initio)', 'V11A': 'V₁₁(Ab initio)'}[datum.label]"}},
     "shape": {"field": "s", "type": "nominal", "scale": {"domain": ["V22A", "V11A"], "range": ["square", "circle"]}, "legend": {"orient": "none", "legendX": 141, "legendY": 10, "title": null, "rowPadding": 4, "labelOffset": 9, "symbolSize": 36, "symbolStrokeWidth": 1.4, "labelExpr": "{'V22A': 'V₂₂(Ab initio)', 'V11A': 'V₁₁(Ab initio)'}[datum.label]"}}
    }},
   {"data": {"values": [{"t": "(a)"}]},
    "mark": {"type": "text", "fontSize": 14, "font": "Liberation Sans"},
    "encoding": {"x": {"datum": 19.15, "type": "quantitative", "axis": null}, "y": {"datum": 1.22, "type": "quantitative", "axis": null}, "text": {"field": "t"}}}
  ]},
 {"width": 286, "height": 220,
  "transform": [{"filter": "datum.p === 'b'"}],
  "resolve": {"axis": {"x": "independent", "y": "independent"}},
  "layer": [
   {"transform": [{"filter": "datum.s === 'V22F' || datum.s === 'V11F'"}],
    "mark": {"type": "line", "clip": true, "interpolate": "monotone", "strokeWidth": 1.5},
    "encoding": {
     "x": {"field": "x", "type": "quantitative", "scale": {"domain": [4, 20], "nice": false, "zero": false}, "axis": {"values": [5, 10, 15, 20], "title": "RQ (bohr)", "tickSize": -4, "labelPadding": 9, "titlePadding": 6, "labelFlush": false}},
     "y": {"field": "y", "type": "quantitative", "scale": {"domain": [-2, 1.2], "nice": false, "zero": false}, "axis": {"values": [-2, -1, 0, 1], "title": "Energy (eV)", "tickSize": -4, "labelPadding": 8, "titlePadding": 4, "labelFlush": false, "labelExpr": "datum.value < 0 ? '-' + abs(datum.value) : '' + datum.value"}},
     "stroke": {"field": "s", "type": "nominal", "scale": {"domain": ["V22F", "V11F", "E1", "E2"], "range": ["#000000", "#ff0000", "#2a4bff", "#b040f0"]}, "legend": null},
     "strokeDash": {"field": "s", "type": "nominal", "scale": {"domain": ["V22F", "V11F", "E1", "E2"], "range": [[1, 0], [1, 0], [7, 2.5, 2, 2.5], [7, 2.5, 2, 2.5]]}, "legend": null}
    }},
   {"transform": [{"filter": "datum.s === 'E1' || datum.s === 'E2'"}],
    "mark": {"type": "line", "clip": true, "interpolate": "monotone", "strokeWidth": 1.5},
    "encoding": {
     "x": {"field": "x", "type": "quantitative", "axis": null},
     "y": {"field": "y", "type": "quantitative", "axis": null},
     "stroke": {"field": "s", "type": "nominal", "legend": null},
     "strokeDash": {"field": "s", "type": "nominal", "legend": null}
    }},
   {"transform": [{"filter": "datum.s === 'VL'"}],
    "mark": {"type": "rule", "color": "#8a2be2", "strokeDash": [7, 2.5, 2, 2.5], "strokeWidth": 1.5, "clip": true},
    "encoding": {
     "x": {"field": "x", "type": "quantitative", "axis": {"orient": "bottom", "values": [7.5, 12.5, 17.5], "labels": false, "title": null, "tickSize": -2.5}},
     "y": {"field": "y", "type": "quantitative", "axis": {"orient": "left", "values": [-1.5, -0.5, 0.5], "labels": false, "title": null, "tickSize": -2.5}},
     "y2": {"field": "y2"}
    }},
   {"transform": [{"filter": "datum.s === 'V22A' || datum.s === 'V11A'"}],
    "mark": {"type": "point", "filled": false, "fill": "white", "fillOpacity": 1, "strokeWidth": 1.4, "size": 40, "clip": true},
    "encoding": {
     "x": {"field": "x", "type": "quantitative", "axis": null},
     "y": {"field": "y", "type": "quantitative", "axis": null},
     "color": {"field": "s", "type": "nominal", "scale": {"domain": ["V22A", "V11A"], "range": ["#66d22a", "#1a1aff"]}, "legend": null},
     "shape": {"field": "s", "type": "nominal", "scale": {"domain": ["V22A", "V11A"], "range": ["square", "circle"]}, "legend": null}
    }},
   {"data": {"values": [{"t": "(b)"}]},
    "mark": {"type": "text", "fontSize": 14, "font": "Liberation Sans"},
    "encoding": {"x": {"datum": 19.2, "type": "quantitative", "axis": null}, "y": {"datum": 0.98, "type": "quantitative", "axis": null}, "text": {"field": "t"}}}
  ]},
 {"width": 286, "height": 220,
  "transform": [{"filter": "datum.p === 'c'"}],
  "resolve": {"axis": {"x": "independent", "y": "independent"}},
  "layer": [
   {"transform": [{"filter": "datum.s === 'V22F' || datum.s === 'V11F'"}],
    "mark": {"type": "line", "clip": true, "interpolate": "monotone", "strokeWidth": 1.5},
    "encoding": {
     "x": {"field": "x", "type": "quantitative", "scale": {"domain": [3, 20], "nice": false, "zero": false}, "axis": {"values": [5, 10, 15, 20], "title": "RQ (bohr)", "tickSize": -4, "labelPadding": 9, "titlePadding": 6, "labelFlush": false}},
     "y": {"field": "y", "type": "quantitative", "scale": {"domain": [-2.2, 1], "nice": false, "zero": false}, "axis": {"values": [-2, -1, 0, 1], "title": "Energy (eV)", "tickSize": -4, "labelPadding": 8, "titlePadding": 4, "labelFlush": false, "labelExpr": "datum.value < 0 ? '-' + abs(datum.value) : '' + datum.value"}},
     "stroke": {"field": "s", "type": "nominal", "scale": {"domain": ["V22F", "V11F", "E1", "E2"], "range": ["#000000", "#ff0000", "#2a4bff", "#b040f0"]}, "legend": null},
     "strokeDash": {"field": "s", "type": "nominal", "scale": {"domain": ["V22F", "V11F", "E1", "E2"], "range": [[1, 0], [1, 0], [7, 2.5, 2, 2.5], [7, 2.5, 2, 2.5]]}, "legend": null}
    }},
   {"transform": [{"filter": "datum.s === 'E1' || datum.s === 'E2'"}],
    "mark": {"type": "line", "clip": true, "interpolate": "monotone", "strokeWidth": 1.5},
    "encoding": {
     "x": {"field": "x", "type": "quantitative", "axis": null},
     "y": {"field": "y", "type": "quantitative", "axis": null},
     "stroke": {"field": "s", "type": "nominal", "legend": null},
     "strokeDash": {"field": "s", "type": "nominal", "legend": null}
    }},
   {"transform": [{"filter": "datum.s === 'VL'"}],
    "mark": {"type": "rule", "color": "#8a2be2", "strokeDash": [7, 2.5, 2, 2.5], "strokeWidth": 1.5, "clip": true},
    "encoding": {
     "x": {"field": "x", "type": "quantitative", "axis": {"orient": "bottom", "values": [7.5, 12.5, 17.5], "labels": false, "title": null, "tickSize": -2.5}},
     "y": {"field": "y", "type": "quantitative", "axis": {"orient": "left", "values": [-1.5, -0.5, 0.5], "labels": false, "title": null, "tickSize": -2.5}},
     "y2": {"field": "y2"}
    }},
   {"transform": [{"filter": "datum.s === 'V22A' || datum.s === 'V11A'"}],
    "mark": {"type": "point", "filled": false, "fill": "white", "fillOpacity": 1, "strokeWidth": 1.4, "size": 40, "clip": true},
    "encoding": {
     "x": {"field": "x", "type": "quantitative", "axis": null},
     "y": {"field": "y", "type": "quantitative", "axis": null},
     "color": {"field": "s", "type": "nominal", "scale": {"domain": ["V22A", "V11A"], "range": ["#66d22a", "#1a1aff"]}, "legend": null},
     "shape": {"field": "s", "type": "nominal", "scale": {"domain": ["V22A", "V11A"], "range": ["square", "circle"]}, "legend": null}
    }},
   {"data": {"values": [{"t": "(c)"}]},
    "mark": {"type": "text", "fontSize": 14, "font": "Liberation Sans"},
    "encoding": {"x": {"datum": 19.1, "type": "quantitative", "axis": null}, "y": {"datum": 0.69, "type": "quantitative", "axis": null}, "text": {"field": "t"}}}
  ]},
 {"width": 286, "height": 220,
  "transform": [{"filter": "datum.p === 'd'"}],
  "resolve": {"axis": {"x": "independent", "y": "independent"}},
  "layer": [
   {"transform": [{"filter": "datum.s === 'V22F' || datum.s === 'V11F'"}],
    "mark": {"type": "line", "clip": true, "interpolate": "linear", "strokeWidth": 1.5},
    "encoding": {
     "x": {"field": "x", "type": "quantitative", "scale": {"domain": [1.5, 20], "nice": false, "zero": false}, "axis": {"values": [5, 10, 15, 20], "title": "RQ (bohr)", "tickSize": -4, "labelPadding": 9, "titlePadding": 6, "labelFlush": false}},
     "y": {"field": "y", "type": "quantitative", "scale": {"domain": [-2.5, 1], "nice": false, "zero": false}, "axis": {"values": [-2, -1, 0, 1], "title": "Energy (eV)", "tickSize": -4, "labelPadding": 8, "titlePadding": 4, "labelFlush": false, "labelExpr": "datum.value < 0 ? '-' + abs(datum.value) : '' + datum.value"}},
     "stroke": {"field": "s", "type": "nominal", "scale": {"domain": ["V22F", "V11F", "E1", "E2"], "range": ["#000000", "#ff0000", "#2a4bff", "#b040f0"]}, "legend": null},
     "strokeDash": {"field": "s", "type": "nominal", "scale": {"domain": ["V22F", "V11F", "E1", "E2"], "range": [[1, 0], [1, 0], [7, 2.5, 2, 2.5], [7, 2.5, 2, 2.5]]}, "legend": null}
    }},
   {"transform": [{"filter": "datum.s === 'E1' || datum.s === 'E2'"}],
    "mark": {"type": "line", "clip": true, "interpolate": "linear", "strokeWidth": 1.5},
    "encoding": {
     "x": {"field": "x", "type": "quantitative", "axis": null},
     "y": {"field": "y", "type": "quantitative", "axis": null},
     "stroke": {"field": "s", "type": "nominal", "legend": null},
     "strokeDash": {"field": "s", "type": "nominal", "legend": null}
    }},
   {"transform": [{"filter": "datum.s === 'VL'"}],
    "mark": {"type": "rule", "color": "#8a2be2", "strokeDash": [7, 2.5, 2, 2.5], "strokeWidth": 1.5, "clip": true},
    "encoding": {
     "x": {"field": "x", "type": "quantitative", "axis": {"orient": "bottom", "values": [2.5, 7.5, 12.5, 17.5], "labels": false, "title": null, "tickSize": -2.5}},
     "y": {"field": "y", "type": "quantitative", "axis": {"orient": "left", "values": [-1.5, -0.5, 0.5], "labels": false, "title": null, "tickSize": -2.5}},
     "y2": {"field": "y2"}
    }},
   {"transform": [{"filter": "datum.s === 'V22A' || datum.s === 'V11A'"}],
    "mark": {"type": "point", "filled": false, "fill": "white", "fillOpacity": 1, "strokeWidth": 1.4, "size": 40, "clip": true},
    "encoding": {
     "x": {"field": "x", "type": "quantitative", "axis": null},
     "y": {"field": "y", "type": "quantitative", "axis": null},
     "color": {"field": "s", "type": "nominal", "scale": {"domain": ["V22A", "V11A"], "range": ["#66d22a", "#1a1aff"]}, "legend": null},
     "shape": {"field": "s", "type": "nominal", "scale": {"domain": ["V22A", "V11A"], "range": ["square", "circle"]}, "legend": null}
    }},
   {"data": {"values": [{"t": "(d)"}]},
    "mark": {"type": "text", "fontSize": 14, "font": "Liberation Sans"},
    "encoding": {"x": {"datum": 19.1, "type": "quantitative", "axis": null}, "y": {"datum": 0.66, "type": "quantitative", "axis": null}, "text": {"field": "t"}}}
  ]}
]
}
